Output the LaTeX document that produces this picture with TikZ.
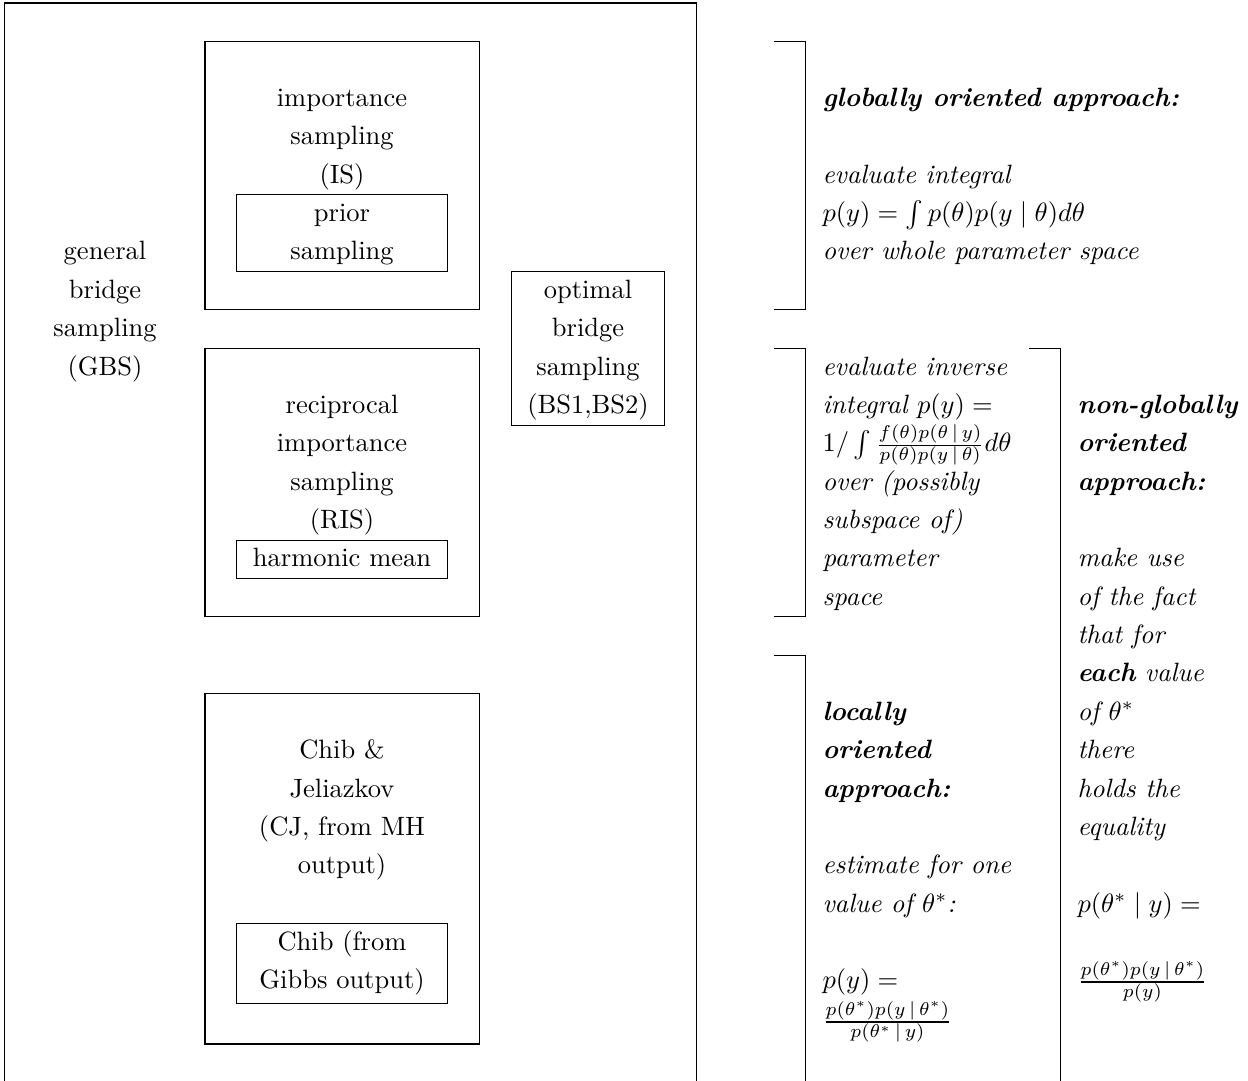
\documentclass[tikz,border=0pt]{standalone}
\usepackage{amsmath}
\newcommand\rowbase[1]{29.7+38.37*(#1)}
\newcommand\rowtop[1]{3+38.37*(#1)}
\newcommand\sbar{\,|\,}
\tikzset{
  frame/.style={draw=black,line width=0.4pt},
  ct/.style={anchor=base,inner sep=0pt},
  lt/.style={anchor=base west,inner sep=0pt},
  bi/.style={lt,font=\bfseries\itshape},
  it/.style={lt,font=\itshape},
}
\begin{document}
\begin{tikzpicture}[x=0.3774pt,y=-0.3774pt]
\useasboundingbox (0,0) rectangle (1248,1081);
% outer frame (open at bottom)
\draw[frame] (4.5,1081) -- (4.5,3) -- (696.7,3) -- (696.7,1081);
% boxes
\draw[frame] (205,{\rowtop{1}}) rectangle (479.5,{\rowtop{8}});
\draw[frame] (236.5,{\rowtop{5}}) rectangle (447.5,{\rowtop{7}});
\draw[frame] (205,{\rowtop{9}}) rectangle (479.5,{\rowtop{16}});
\draw[frame] (236.5,{\rowtop{14}}) rectangle (447.5,{\rowtop{15}});
\draw[frame] (205,{\rowtop{18}}) rectangle (479.5,1044);
\draw[frame] (236.5,{\rowtop{24}}) rectangle (447.5,1003.3);
\draw[frame] (511.5,{\rowtop{7}}) rectangle (664.5,{\rowtop{11}});
% brackets
\draw[frame] (774,{\rowtop{1}}) -- (805.7,{\rowtop{1}}) -- (805.7,{\rowtop{8}}) -- (774,{\rowtop{8}});
\draw[frame] (774,{\rowtop{9}}) -- (805.7,{\rowtop{9}}) -- (805.7,{\rowtop{16}}) -- (774,{\rowtop{16}});
\draw[frame] (774,{\rowtop{17}}) -- (805.7,{\rowtop{17}}) -- (805.7,1081);
\draw[frame] (1029,{\rowtop{9}}) -- (1060.5,{\rowtop{9}}) -- (1060.5,1081);
% left column
\foreach \t [count=\i from 0] in {general,bridge,sampling,(GBS)}
  \node[ct] (gbs\i) at (105,{\rowbase{6+\i}}) {\t};
\foreach \t [count=\i from 0] in {importance,sampling,(IS)}
  \node[ct] (is\i) at (342,{\rowbase{2+\i}}) {\t};
\foreach \t [count=\i from 0] in {prior,sampling}
  \node[ct] (pr\i) at (342,{\rowbase{5+\i}}) {\t};
\foreach \t [count=\i from 0] in {reciprocal,importance,sampling,(RIS)}
  \node[ct] (ris\i) at (342,{\rowbase{10+\i}}) {\t};
\node[ct] (hm) at (342,{\rowbase{14}}) {harmonic mean};
\foreach \t [count=\i from 0] in {optimal,bridge,sampling,{(BS1,BS2)}}
  \node[ct] (obs\i) at (588,{\rowbase{7+\i}}) {\t};
\foreach \t [count=\i from 0] in {Chib \&,Jeliazkov,{(CJ, from MH},output)}
  \node[ct] (cj\i) at (342,{\rowbase{19+\i}}) {\t};
\node[ct] (chib0) at (342,{\rowbase{24}}) {Chib (from};
\node[ct] (chib1) at (342,988.4) {Gibbs output)};
% right column 1
\node[bi] (glob) at (822,{\rowbase{2}}) {globally oriented approach:};
\node[it] (g1) at (822,{\rowbase{4}}) {evaluate integral};
\node[it] (g2) at (822,{\rowbase{5}}) {$p(y)=\int p(\theta)p(y\mid\theta)d\theta$};
\node[it] (g3) at (822,{\rowbase{6}}) {over whole parameter space};
\node[it] (r1) at (822,{\rowbase{9}}) {evaluate inverse};
\node[it] (r2) at (822,{\rowbase{10}}) {integral $p(y) =$};
\node[it] (r3) at (822,{\rowbase{11}}) {$1/\int\frac{f(\theta)p(\theta\sbar y)}{p(\theta)p(y\sbar\theta)}d\theta$};
\node[it] (r4) at (822,{\rowbase{12}}) {over (possibly};
\node[it] (r5) at (822,{\rowbase{13}}) {subspace of)};
\node[it] (r6) at (822,{\rowbase{14}}) {parameter};
\node[it] (r7) at (822,{\rowbase{15}}) {space};
\foreach \t [count=\i from 0] in {locally,oriented,approach:}
  \node[bi] (loc\i) at (822,{\rowbase{18+\i}}) {\t};
\node[it] (l1) at (822,{\rowbase{22}}) {estimate for one};
\node[it] (l2) at (822,{\rowbase{23}}) {value of $\theta^*$:};
\node[it] (l3) at (822,988.5) {$p(y) =$};
\node[it] (l4) at (822,1028.6) {$\frac{p(\theta^*)p(y\sbar\theta^*)}{p(\theta^*\sbar y)}$};
% right column 2
\foreach \t [count=\i from 0] in {non-globally,oriented,approach:}
  \node[bi] (ng\i) at (1077,{\rowbase{10+\i}}) {\t};
\node[it] (n1) at (1077,{\rowbase{14}}) {make use};
\node[it] (n2) at (1077,{\rowbase{15}}) {of the fact};
\node[it] (n3) at (1077,{\rowbase{16}}) {that for};
\node[it] (n4) at (1077,{\rowbase{17}}) {\textbf{each} value};
\node[it] (n5) at (1077,{\rowbase{18}}) {of $\theta^*$};
\node[it] (n6) at (1077,{\rowbase{19}}) {there};
\node[it] (n7) at (1077,{\rowbase{20}}) {holds the};
\node[it] (n8) at (1077,{\rowbase{21}}) {equality};
\node[it] (n9) at (1077,{\rowbase{23}}) {$p(\theta^*\mid y) =$};
\node[it] (n10) at (1077,988.6) {$\frac{p(\theta^*)p(y\sbar\theta^*)}{p(y)}$};
\end{tikzpicture}
\end{document}
